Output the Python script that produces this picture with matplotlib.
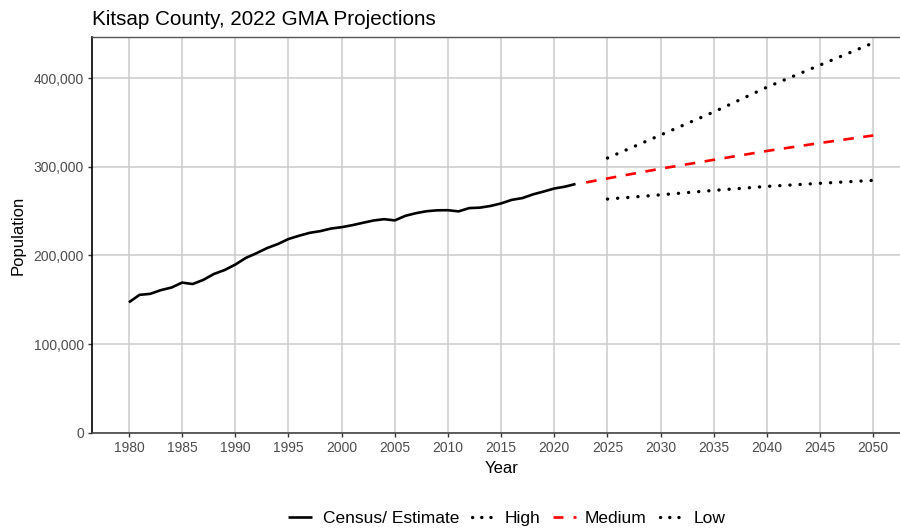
import matplotlib
matplotlib.use("Agg")
import matplotlib.pyplot as plt
from matplotlib.ticker import FuncFormatter, MultipleLocator
from matplotlib.lines import Line2D

plt.rcParams['font.family'] = ['Liberation Sans', 'DejaVu Sans']

# Census / estimate (annual)
census_years = list(range(1980, 2023))
census_pop = [147152, 155600, 156700, 160900, 163800, 169400, 167800, 172500, 179200, 183600,
              189731, 197300, 202600, 208400, 212900, 218600, 222300, 225600, 227500, 230400,
              231969, 234200, 236900, 239500, 241000, 239600, 244800, 247800, 250000, 251000,
              251133, 249800, 253500, 254000, 255900, 258800, 262800, 264800, 269000, 272200,
              275611, 277700, 280700]

high_years = [2025, 2030, 2035, 2040, 2045, 2050]
high_pop = [310000, 336000, 362000, 390000, 415000, 440000]

medium_years = [2023, 2025, 2030, 2035, 2040, 2045, 2050]
medium_pop = [282500, 287000, 298000, 308000, 318000, 327000, 335500]

low_years = [2025, 2030, 2035, 2040, 2045, 2050]
low_pop = [263700, 268500, 273500, 278000, 281500, 284800]

series_labels = ['Census/ Estimate', 'High', 'Medium', 'Low']

W, H = 900, 529
fig = plt.figure(figsize=(W / 100, H / 100), dpi=100)
left, right, top, bottom = 91.7, 910.5, 37.3, 433.3
ax = fig.add_axes([left / W, 1 - bottom / H, (right - left) / W, (bottom - top) / H])

lw = 1.9
dlw = 2.4
dot = (0, (0.05, 7.2 / dlw))
dash = (0, (4, 3.6))

ax.plot(census_years, census_pop, color='black', lw=lw, solid_capstyle='butt',
        solid_joinstyle='round', zorder=3)
ax.plot(high_years, high_pop, color='black', lw=dlw, linestyle=dot,
        dash_capstyle='round', zorder=3)
ax.plot(medium_years, medium_pop, color='#ff0000', lw=lw, linestyle=dash,
        dash_capstyle='butt', zorder=3)
ax.plot(low_years, low_pop, color='black', lw=dlw, linestyle=dot,
        dash_capstyle='round', zorder=3)

ax.set_xlim(1976.5, 2053.5)
ax.set_ylim(-700, 446300)
ax.xaxis.set_major_locator(MultipleLocator(5))
ax.yaxis.set_major_locator(MultipleLocator(100000))
ax.yaxis.set_major_formatter(FuncFormatter(lambda v, p: f"{int(v):,}"))

ax.grid(True, color='#cccccc', lw=1.1)
ax.set_axisbelow(True)

ax.spines['right'].set_visible(False)
ax.spines['left'].set_color('black')
ax.spines['left'].set_linewidth(1.2)
ax.spines['bottom'].set_color('#444444')
ax.spines['bottom'].set_linewidth(1.2)
ax.spines['top'].set_color('#555555')
ax.spines['top'].set_linewidth(1.0)

ax.tick_params(axis='both', colors='#333333', labelcolor='#4d4d4d', labelsize=10,
               length=3, width=1, pad=2.5)

ax.set_xlabel('Year', fontsize=12, color='black', labelpad=4.5)
ax.set_ylabel('Population', fontsize=12, color='black', labelpad=6)

fig.text(left / W, 1 - 25 / H, 'Kitsap County, 2022 GMA Projections', fontsize=14.9,
         ha='left', va='baseline', color='black')

# manual legend (pixel positions)
def fx(x):
    return x / W

def fy(y):
    return 1 - y / H

ly = 517.3
base = 523.3
leg_dot = (0, (0.05, 6.5 / dlw))
leg_dash = (0, (7.2 / lw, 7.2 / lw))
styles = [
    dict(color='black', lw=lw, linestyle='-', x0=288.3, x1=311.7, tx=322.7),
    dict(color='black', lw=dlw, linestyle=leg_dot, x0=471.7, x1=492, tx=505),
    dict(color='#ff0000', lw=lw, linestyle=leg_dash, x0=552.7, x1=576, tx=585),
    dict(color='black', lw=dlw, linestyle=leg_dot, x0=660, x1=682, tx=693.3),
]
for st, lab in zip(styles, series_labels):
    ln = Line2D([fx(st['x0']), fx(st['x1'])], [fy(ly), fy(ly)], transform=fig.transFigure,
                color=st['color'], lw=st['lw'], linestyle=st['linestyle'],
                dash_capstyle='round' if st['lw'] == dlw else 'butt',
                solid_capstyle='butt')
    fig.add_artist(ln)
    fig.text(fx(st['tx']), fy(base), lab, fontsize=12.5, ha='left', va='baseline',
             color='black')

fig.savefig('out.png', dpi=100)
